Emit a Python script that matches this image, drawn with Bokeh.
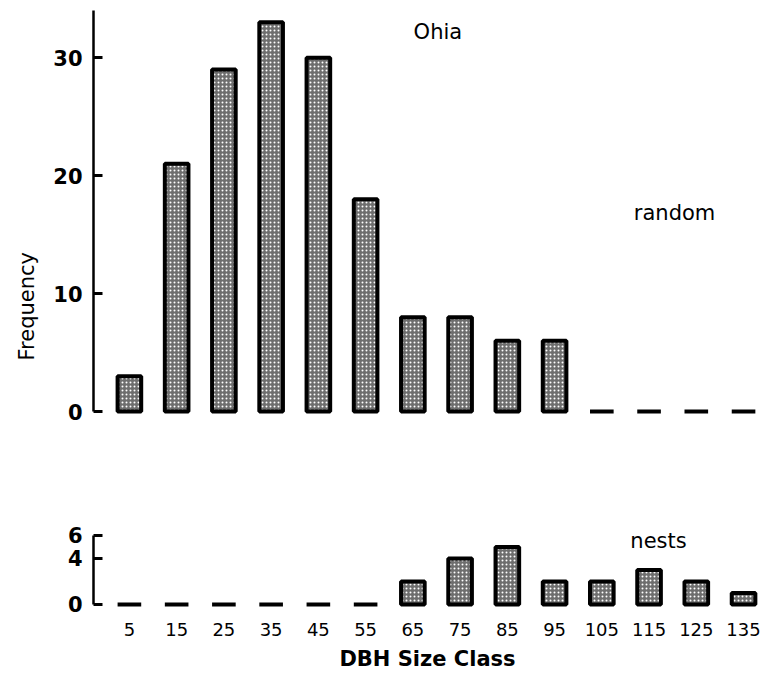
import math
from bokeh.plotting import figure
from bokeh.layouts import column
from bokeh.models import Range1d, FixedTicker, Label, Title
from bokeh.embed import file_html
from bokeh.resources import INLINE

# ---- data ----
size_class = [5, 15, 25, 35, 45, 55, 65, 75, 85, 95, 105, 115, 125, 135]
random_freq = [3, 21, 29, 33, 30, 18, 8, 8, 6, 6, 0, 0, 0, 0]
nest_freq = [0, 0, 0, 0, 0, 0, 2, 4, 5, 2, 2, 3, 2, 1]
top_ticks = [0, 10, 20, 30]
bottom_ticks = [0, 4, 6]
size_labels = [str(c) for c in size_class]

FONT = "DejaVu Sans"
W = 765

bar_style = dict(width=5, bottom=0, fill_color="#6e6e6e", line_color="black",
                 line_width=4, hatch_pattern=".", hatch_color="white",
                 hatch_scale=4, hatch_weight=2, hatch_alpha=1.0)


def style_yaxis(ax, ticks, bounds):
    ax.ticker = FixedTicker(ticks=ticks)
    ax.bounds = bounds
    ax.axis_line_width = 2.5
    ax.major_tick_line_width = 3
    ax.major_tick_in = 9
    ax.major_tick_out = 0
    ax.minor_tick_in = 0
    ax.minor_tick_out = 0
    ax.major_label_standoff = 11
    ax.major_label_text_font = FONT
    ax.major_label_text_font_size = "21px"
    ax.major_label_text_font_style = "bold"
    ax.major_label_text_color = "black"


def note(x, y, text, **kw):
    return Label(x=x, y=y, text=text, text_font=FONT, text_font_size="21px",
                 text_align="center", text_baseline="middle",
                 text_color="black", **kw)


# ---- top panel (random) ----
p1 = figure(width=W, height=430, output_backend="svg", toolbar_location=None,
            x_range=Range1d(-2.6, 138.8), y_range=Range1d(-0.76, 34.0),
            min_border_left=92, min_border_right=4, min_border_top=10,
            min_border_bottom=10)
p1.vbar(x=size_class, top=random_freq, **bar_style)
p1.xaxis.visible = False
p1.xgrid.visible = False
p1.ygrid.visible = False
p1.outline_line_color = None
style_yaxis(p1.yaxis[0], top_ticks, (0, 34.3))

p1.add_layout(note(70.3, 32.2, "Ohia"))
p1.add_layout(note(120.4, 16.8, "random"))
p1.add_layout(Title(text="Frequency", align="left", offset=60, standoff=24,
                    text_font=FONT, text_font_size="21px",
                    text_font_style="normal", text_color="black"), "left")

# ---- bottom panel (nests) ----
p2 = figure(width=W, height=250, output_backend="svg", toolbar_location=None,
            x_range=p1.x_range, y_range=Range1d(-0.35, 7.3),
            min_border_left=92, min_border_right=4, min_border_top=90,
            min_border_bottom=72)
p2.vbar(x=size_class, top=nest_freq, **bar_style)
p2.xgrid.visible = False
p2.ygrid.visible = False
p2.outline_line_color = None
style_yaxis(p2.yaxis[0], bottom_ticks, (0, 6))

xa = p2.xaxis[0]
xa.ticker = FixedTicker(ticks=size_class)
xa.major_label_overrides = {c: l for c, l in zip(size_class, size_labels)}
xa.axis_line_color = None
xa.major_tick_line_color = None
xa.minor_tick_line_color = None
xa.major_tick_in = 0
xa.major_tick_out = 0
xa.major_label_standoff = 14
xa.major_label_text_font = FONT
xa.major_label_text_font_size = "18px"
xa.major_label_text_color = "black"
xa.axis_label = "DBH Size Class"
xa.axis_label_standoff = 8
xa.axis_label_text_font = FONT
xa.axis_label_text_font_size = "21px"
xa.axis_label_text_font_style = "bold"
xa.axis_label_text_color = "black"

p2.add_layout(note(117, 5.5, "nests"))

layout = column(p1, p2, spacing=0)
open("out.html", "w").write(file_html(layout, INLINE))
